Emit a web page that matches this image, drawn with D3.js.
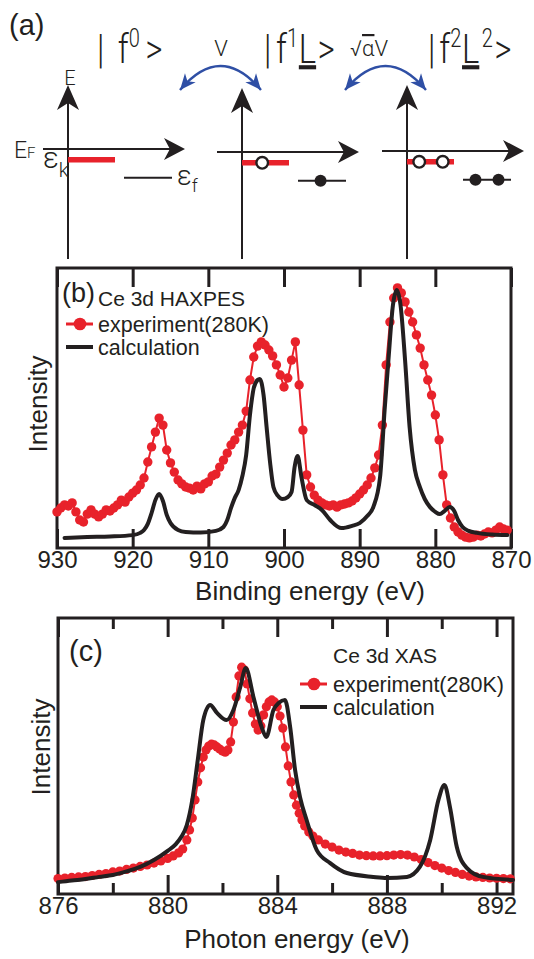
<!DOCTYPE html>
<html>
<head>
<meta charset="utf-8">
<script src="https://cdn.jsdelivr.net/npm/d3@7/dist/d3.min.js"></script>
<style>
  body { margin: 0; background: #fff; }
  text { font-family: "Liberation Sans", Arial, Helvetica, sans-serif; fill: #231f20; }
  .thin { font-family: Roboto, "Liberation Sans", sans-serif; font-weight: 300; }
</style>
</head>
<body>
<div id="fig"></div>
<script>
// ---------- (a) configuration schematic ----------
var ketF = ["0", "1", "2"];              // f occupancy in |f^n L^m>
var ketLigand = [false, true, true];     // underlined L present
var ketLigandPow = ["", "", "2"];
var hopLabels = ["V", "\u221A\u03B1V"];
var levelE = { EF: 0, epsK: -0.3, epsF: -0.8 };   // schematic energies
var holeFrac = [[], [0.43], [0.26, 0.76]];         // open circles in the band
var electronFrac = [[], [0.47], [0.26, 0.74]];     // filled dots on f level

// ---------- (b) Ce 3d HAXPES : binding energy (eV), intensity (arb.) ----------
var bindingTicks = [930, 920, 910, 900, 890, 880, 870];
var haxpesExp = [
  [930, 12.9], [929.5, 14.3], [929, 15.4], [928.5, 15.0], [928, 16.1], [927.5, 12.9],
  [927, 10.0], [926.5, 9.3], [926, 12.1], [925.5, 13.6], [925, 12.1], [924.5, 11.1],
  [924, 12.1], [923.5, 13.6], [923, 13.2], [922.5, 14.3], [922, 15.4], [921.5, 17.1],
  [921, 16.4], [920.5, 18.2], [920, 19.6], [919.5, 20.7], [919, 22.5], [918.5, 25.0],
  [918, 30.7], [917.5, 36.1], [917, 41.4], [916.5, 46.4], [916, 43.9], [915.5, 35.0],
  [915, 30.4], [914.5, 27.1], [914, 24.3], [913.5, 22.9], [913, 21.8], [912.5, 21.4],
  [912, 20.7], [911.5, 22.1], [911, 21.1], [910.5, 22.9], [910, 23.6], [909.5, 25.7],
  [909, 26.4], [908.5, 28.9], [908, 31.4], [907.5, 33.9], [907, 36.8], [906.5, 38.6],
  [906, 41.4], [905.5, 43.9], [905, 48.9], [904.5, 60.0], [904, 68.2], [903.5, 72.1],
  [903, 73.6], [902.5, 72.5], [902, 70.7], [901.5, 68.6], [901, 65.4], [900.5, 61.8],
  [900, 57.5], [899.5, 60.7], [899, 67.1], [898.5, 73.6], [898, 58.2], [897.5, 42.1],
  [897, 26.1], [896.5, 21.8], [896, 18.9], [895.5, 17.1], [895, 16.1], [894.5, 15.4],
  [894, 15.0], [893.5, 15.4], [893, 14.6], [892.5, 15.4], [892, 15.7], [891.5, 16.1],
  [891, 16.8], [890.5, 17.9], [890, 19.3], [889.5, 20.7], [889, 22.5], [888.5, 25.0],
  [888, 28.6], [887.5, 33.2], [887, 43.9], [886.5, 65.4], [886, 80.7], [885.5, 89.3],
  [885, 92.9], [884.5, 91.1], [884, 87.9], [883.5, 84.3], [883, 80.7], [882.5, 76.1],
  [882, 71.4], [881.5, 65.4], [881, 60.0], [880.5, 54.6], [880, 47.5], [879.5, 38.6],
  [879, 26.1], [878.5, 15.4], [878, 10.7], [877.5, 7.5], [877, 5.7], [876.5, 4.6],
  [876, 3.9], [875.5, 3.6], [875, 3.9], [874.5, 4.6], [874, 4.3], [873.5, 5.0],
  [873, 5.7], [872.5, 5.4], [872, 6.4], [871.5, 7.5], [871, 6.8], [870.5, 6.4]
];
var haxpesCalc = [
  [929, 3.6], [926, 3.9], [923, 4.1], [920, 4.6], [919, 5.4], [918.5, 6.4], [918, 8.6],
  [917.5, 12.5], [917, 17.1], [916.5, 19.3], [916, 16.8], [915.5, 11.8], [915, 8.9],
  [914, 6.4], [913, 5.7], [911, 5.5], [909, 6.1], [908, 7.5], [907.5, 10.0], [907, 14.3],
  [906.5, 17.9], [906, 20.7], [905.5, 25.7], [905, 33.2], [904.5, 47.5], [904, 57.1],
  [903.5, 60.0], [903.2, 60.4], [902.7, 54.6], [902.3, 43.2], [901.8, 29.6], [901.4, 21.8],
  [900.8, 18.6], [900.2, 17.5], [899.5, 18.2], [899, 20.0], [898.6, 28.9], [898.2, 32.9],
  [897.7, 25.4], [897, 17.1], [896, 15.4], [895, 13.6], [893.9, 10.0], [892.4, 7.1],
  [891, 7.9], [890, 8.9], [889, 11.4], [888.2, 14.6], [887.3, 25.4], [886.7, 49.3],
  [886.2, 67.1], [885.6, 86.8], [885.1, 92.1], [884.6, 86.8], [884, 67.1], [883.4, 43.2],
  [882.7, 27.9], [882.05, 21.8], [881.4, 17.5], [880.7, 14.6], [880, 12.9], [879.4, 12.1],
  [878.8, 13.2], [878.1, 14.6], [877.5, 13.2], [877, 10.0], [876.4, 7.5], [875.6, 6.1],
  [874.5, 5.4], [872.5, 4.8], [870.5, 4.6]
];

// ---------- (c) Ce 3d XAS : photon energy (eV), intensity (arb.) ----------
var photonTicks = [876, 880, 884, 888, 892];
var photonMinorTicks = [878, 882, 886, 890];
var xasExp = [
  [876, 5.6], [876.25, 5.8], [876.5, 6.0], [876.75, 6.2], [877, 6.3], [877.25, 6.7],
  [877.5, 7.1], [877.75, 7.4], [878, 8.0], [878.25, 8.3], [878.5, 8.9], [878.75, 9.4],
  [879, 10.0], [879.25, 10.5], [879.5, 11.2], [879.75, 12.0], [880, 12.9], [880.2, 13.8],
  [880.4, 14.9], [880.55, 16.3], [880.7, 19.6], [880.8, 23.2], [880.9, 27.5], [881.0, 34.1],
  [881.1, 40.6], [881.2, 45.7], [881.3, 49.6], [881.4, 52.2], [881.5, 53.6], [881.6, 54.3],
  [881.7, 54.0], [881.8, 53.3], [881.9, 52.5], [882.0, 51.8], [882.1, 51.4], [882.2, 52.2],
  [882.3, 55.1], [882.4, 62.3], [882.5, 71.4], [882.6, 79.0], [882.7, 82.2], [882.8, 81.2],
  [882.9, 76.1], [883.0, 70.7], [883.1, 65.6], [883.2, 61.6], [883.3, 59.4], [883.4, 60.9],
  [883.5, 64.9], [883.6, 67.8], [883.7, 69.6], [883.8, 70.3], [883.9, 69.6], [884.0, 67.8],
  [884.1, 64.5], [884.2, 60.1], [884.3, 53.3], [884.4, 46.4], [884.5, 40.6], [884.6, 35.9],
  [884.7, 32.2], [884.8, 29.3], [884.9, 26.8], [885.0, 24.6], [885.15, 22.5], [885.3, 21.0],
  [885.5, 19.6], [885.75, 18.1], [886.0, 17.0], [886.25, 15.9], [886.5, 15.2], [886.75, 14.7],
  [887.0, 14.1], [887.25, 13.9], [887.5, 13.8], [887.75, 13.8], [888.0, 13.9], [888.25, 14.1],
  [888.5, 14.3], [888.75, 14.1], [889.0, 13.4], [889.25, 12.5], [889.5, 11.4], [889.75, 10.3],
  [890.0, 9.4], [890.25, 8.5], [890.5, 7.8], [890.75, 7.1], [891.0, 6.5], [891.25, 6.2],
  [891.5, 6.0], [891.75, 5.8], [892.0, 5.7], [892.25, 5.6], [892.5, 5.5]
];
var xasCalc = [
  [876, 4.3], [876.5, 4.9], [877, 5.4], [877.5, 6.2], [878, 6.9], [878.5, 8.2], [879, 9.8],
  [879.5, 12.3], [880, 15.6], [880.3, 18.1], [880.5, 20.7], [880.7, 25.0], [880.9, 34.1],
  [881.1, 48.6], [881.3, 63.0], [881.55, 68.5], [881.8, 65.6], [882.15, 63.0], [882.4, 66.7],
  [882.65, 75.0], [882.85, 81.9], [883.13, 71.4], [883.43, 60.5], [883.6, 56.9], [883.86, 66.7],
  [884.05, 69.2], [884.28, 70.3], [884.47, 60.5], [884.65, 44.9], [884.83, 35.1], [885.07, 26.8],
  [885.44, 15.9], [885.93, 11.2], [886.54, 7.6], [887.5, 6.2], [888, 5.8], [888.73, 6.2],
  [889.2, 9.8], [889.58, 19.6], [889.88, 34.1], [890.1, 39.5], [890.3, 31.5], [890.55, 17.0],
  [890.92, 9.4], [891.5, 6.2], [892.6, 5.1]
];

var red = "#e8222b", ink = "#231f20", blue = "#2f4fa5";

var svg = d3.select("#fig").append("svg")
  .attr("width", 534)
  .attr("height", 959);

// small filled "stealth" arrow head, tip at (x,y), pointing along ang (deg)
function arrowHead(g, x, y, ang, len, half, color) {
  g.append("path")
    .attr("d", "M0,0L" + (-len) + "," + (-half) + "L" + (-len * 0.72) + ",0L" + (-len) + "," + half + "Z")
    .attr("transform", "translate(" + x + "," + y + ") rotate(" + ang + ")")
    .attr("fill", color);
}

// ================= panel (a) =================
var gA = svg.append("g");
var colX = [68, 242, 407], hAxisY = [149, 152, 151], vTipY = [85, 88, 85], vBottom = 259;
var ketX = [97, 264, 428], ketBase = 63, ketGap = [17, 6, 5], ketEnd = [7, 2, 2];
var eY = d3.scaleLinear().domain([0, -1]).range([0, 36]);

gA.append("text").attr("x", 9).attr("y", 35).style("font-size", "29px").text("(a)");

colX.forEach(function(cx, i) {
  var ay = hAxisY[i];
  // energy axis
  gA.append("line").attr("x1", cx).attr("x2", cx).attr("y1", vTipY[i] + 12).attr("y2", vBottom)
    .attr("stroke", ink).attr("stroke-width", 2);
  arrowHead(gA, cx, vTipY[i], -90, 25, 11, ink);
  // k axis
  gA.append("line").attr("x1", cx - 25).attr("x2", cx + 105).attr("y1", ay).attr("y2", ay)
    .attr("stroke", ink).attr("stroke-width", 2);
  arrowHead(gA, cx + 117, ay, 0, 21, 11, ink);

  // conduction band (eps_k) and f level (eps_f)
  var band = d3.scaleLinear().domain([0, 1]).range([cx, cx + 47]);
  var flev = d3.scaleLinear().domain([0, 1]).range([cx + 56, cx + 104]);
  var yk = ay + eY(levelE.epsK), yf = ay + eY(levelE.epsF);
  gA.append("line").attr("x1", band(0)).attr("x2", band(1)).attr("y1", yk).attr("y2", yk)
    .attr("stroke", red).attr("stroke-width", 5.5);
  gA.append("line").attr("x1", flev(0)).attr("x2", flev(1)).attr("y1", yf).attr("y2", yf)
    .attr("stroke", ink).attr("stroke-width", 2);

  gA.selectAll(null).data(holeFrac[i]).enter().append("circle")
    .attr("cx", function(d) { return band(d); }).attr("cy", yk).attr("r", 5.8)
    .attr("fill", "#fff").attr("stroke", ink).attr("stroke-width", 2.4);
  gA.selectAll(null).data(electronFrac[i]).enter().append("circle")
    .attr("cx", function(d) { return flev(d); }).attr("cy", yf).attr("r", 6)
    .attr("fill", ink);

  // ket label, horizontally condensed like the original lettering
  var t = gA.append("text").attr("class", "thin")
    .attr("transform", "translate(" + ketX[i] + "," + ketBase + ") scale(0.8,1)")
    .style("font-size", "41px");
  t.append("tspan").text("|");
  t.append("tspan").attr("dx", ketGap[i]).text("f");
  t.append("tspan").attr("dy", -16).style("font-size", "25px").text(ketF[i]);
  var back = 16;
  if (ketLigand[i]) {
    t.append("tspan").attr("dy", back).attr("dx", 1).style("text-decoration", "underline").text("L");
    back = 0;
    if (ketLigandPow[i]) {
      t.append("tspan").attr("dy", -16).attr("dx", 3).style("font-size", "25px").text(ketLigandPow[i]);
      back = 16;
    }
  }
  t.append("tspan").attr("dy", back).attr("dx", ketEnd[i]).text(">");
});

// level labels
gA.append("text").attr("class", "thin").attr("x", colX[0] + 2).attr("y", vTipY[0])
  .attr("text-anchor", "middle").style("font-size", "20px").text("E");
var ef = gA.append("text").attr("class", "thin").attr("x", 14).attr("y", hAxisY[0] + 9).style("font-size", "23px");
ef.append("tspan").text("E");
ef.append("tspan").style("font-size", "15px").text("F");
var ek = gA.append("text").attr("class", "thin").attr("x", 43).attr("y", hAxisY[0] + 19).style("font-size", "29px");
ek.append("tspan").text("\u03B5");
ek.append("tspan").attr("dy", 9).style("font-size", "20px").text("k");
var efl = gA.append("text").attr("class", "thin").attr("x", 177).attr("y", hAxisY[0] + 36).style("font-size", "27px");
efl.append("tspan").text("\u03B5");
efl.append("tspan").attr("dy", 7).style("font-size", "18px").text("f");

// hopping arcs between neighbouring configurations
hopLabels.forEach(function(lab, i) {
  var xc = colX[i + 1];
  var x0 = xc - 62, x1 = xc + 19, y0 = 90, apex = 66;
  var cxp = (x0 + x1) / 2, cyp = 2 * apex - y0;
  gA.append("path")
    .attr("d", "M" + x0 + "," + y0 + "Q" + cxp + "," + cyp + " " + x1 + "," + y0)
    .attr("fill", "none").attr("stroke", blue).attr("stroke-width", 2.4);
  var a0 = Math.atan2(y0 - cyp, x0 - cxp) * 180 / Math.PI;
  var a1 = Math.atan2(y0 - cyp, x1 - cxp) * 180 / Math.PI;
  arrowHead(gA, x0, y0, a0, 16, 7, blue);
  arrowHead(gA, x1, y0, a1, 16, 7, blue);
  var lt = gA.append("text").attr("class", "thin").style("font-size", "22px").attr("y", 56);
  if (i === 0) {
    lt.attr("x", xc - 21).attr("text-anchor", "middle").text(lab);
  } else {
    lt.attr("x", xc - 57);
    lt.append("tspan").text(lab.charAt(0));
    lt.append("tspan").style("text-decoration", "overline").text(lab.charAt(1));
    lt.append("tspan").text(lab.slice(2));
  }
});

// ================= spectra panels =================
function spectrum(cfg) {
  var x = d3.scaleLinear().domain(cfg.xDomain).range([cfg.left, cfg.right]);
  var y = d3.scaleLinear().domain([0, 100]).range([cfg.bottom, cfg.top]);
  var g = svg.append("g");

  function styleAxis(sel) {
    sel.select(".domain").remove();
    sel.selectAll(".tick line").attr("stroke", ink).attr("stroke-width", 3);
    sel.attr("font-family", null).attr("font-size", null);
    sel.selectAll(".tick text").attr("fill", ink).style("font-size", "24px");
  }

  var bottomAxis = d3.axisBottom(x).tickValues(cfg.ticks).tickSizeInner(-cfg.tickLen)
    .tickSizeOuter(0).tickPadding(3).tickFormat(d3.format("d"));
  g.append("g").attr("transform", "translate(0," + cfg.bottom + ")").call(bottomAxis).call(styleAxis);
  g.append("g").attr("transform", "translate(0," + cfg.top + ")")
    .call(d3.axisTop(x).tickValues(cfg.ticks).tickSizeInner(-cfg.tickLen).tickSizeOuter(0).tickFormat(""))
    .call(styleAxis);
  if (cfg.minor) {
    g.append("g").attr("transform", "translate(0," + cfg.bottom + ")")
      .call(d3.axisBottom(x).tickValues(cfg.minor).tickSizeInner(-11).tickSizeOuter(0).tickFormat(""))
      .call(styleAxis);
    g.append("g").attr("transform", "translate(0," + cfg.top + ")")
      .call(d3.axisTop(x).tickValues(cfg.minor).tickSizeInner(-11).tickSizeOuter(0).tickFormat(""))
      .call(styleAxis);
  }

  g.append("rect").attr("x", cfg.left).attr("y", cfg.top)
    .attr("width", cfg.right - cfg.left).attr("height", cfg.bottom - cfg.top)
    .attr("fill", "none").attr("stroke", ink).attr("stroke-width", 3);

  // experiment: red dots joined by a thin line
  var expLine = d3.line().x(function(d) { return x(d[0]); }).y(function(d) { return y(d[1]); });
  g.append("path").datum(cfg.exp).attr("d", expLine)
    .attr("fill", "none").attr("stroke", red).attr("stroke-width", 2);
  g.selectAll(null).data(cfg.exp).enter().append("circle")
    .attr("cx", function(d) { return x(d[0]); })
    .attr("cy", function(d) { return y(d[1]); })
    .attr("r", cfg.dotR).attr("fill", red);

  // calculation
  var calcLine = d3.line().curve(d3.curveMonotoneX)
    .x(function(d) { return x(d[0]); }).y(function(d) { return y(d[1]); });
  g.append("path").datum(cfg.calc).attr("d", calcLine)
    .attr("fill", "none").attr("stroke", ink).attr("stroke-width", 4)
    .attr("stroke-linejoin", "round").attr("stroke-linecap", "round");

  // axis titles
  g.append("text").attr("x", cfg.xTitleX).attr("y", cfg.xTitleY).attr("text-anchor", "middle")
    .style("font-size", "26px").text(cfg.xTitle);
  g.append("text").attr("transform", "translate(" + cfg.yTitleX + "," + cfg.yTitleY + ") rotate(-90)")
    .attr("text-anchor", "middle").style("font-size", "26px").text("Intensity");

  // panel letter and legend
  var L = cfg.legend;
  g.append("text").attr("x", cfg.tagX).attr("y", cfg.tagY).style("font-size", cfg.tagSize + "px").text(cfg.tag);
  g.append("text").attr("x", L.x).attr("y", L.titleY).style("font-size", "21px").text(L.title);
  g.append("line").attr("x1", L.lx).attr("x2", L.lx + 27).attr("y1", L.redY).attr("y2", L.redY)
    .attr("stroke", red).attr("stroke-width", 3);
  g.append("circle").attr("cx", L.lx + 14).attr("cy", L.redY).attr("r", 6.3).attr("fill", red);
  g.append("text").attr("x", L.x).attr("y", L.redY + 8).style("font-size", "21.5px").text("experiment(280K)");
  g.append("line").attr("x1", L.lx).attr("x2", L.lx + 27).attr("y1", L.blackY).attr("y2", L.blackY)
    .attr("stroke", ink).attr("stroke-width", 4);
  g.append("text").attr("x", L.x).attr("y", L.blackY + 8).style("font-size", "21.5px").text("calculation");
}

spectrum({
  xDomain: [930, 870], left: 57, right: 511, top: 268, bottom: 548,
  ticks: bindingTicks, tickLen: 19,
  exp: haxpesExp, calc: haxpesCalc, dotR: 4.7,
  xTitle: "Binding energy (eV)", xTitleX: 310, xTitleY: 600,
  yTitleX: 47, yTitleY: 404,
  tag: "(b)", tagX: 62, tagY: 302, tagSize: 27,
  legend: { x: 98, lx: 66, titleY: 306, redY: 324, blackY: 347, title: "Ce 3d HAXPES" }
});

spectrum({
  xDomain: [876, 892.6], left: 58, right: 513, top: 618, bottom: 894,
  ticks: photonTicks, minor: photonMinorTicks, tickLen: 19,
  exp: xasExp, calc: xasCalc, dotR: 4.6,
  xTitle: "Photon energy (eV)", xTitleX: 297, xTitleY: 948,
  yTitleX: 50, yTitleY: 747,
  tag: "(c)", tagX: 69, tagY: 661, tagSize: 29,
  legend: { x: 333, lx: 300, titleY: 663, redY: 684, blackY: 707, title: "Ce 3d XAS" }
});
</script>
</body>
</html>
